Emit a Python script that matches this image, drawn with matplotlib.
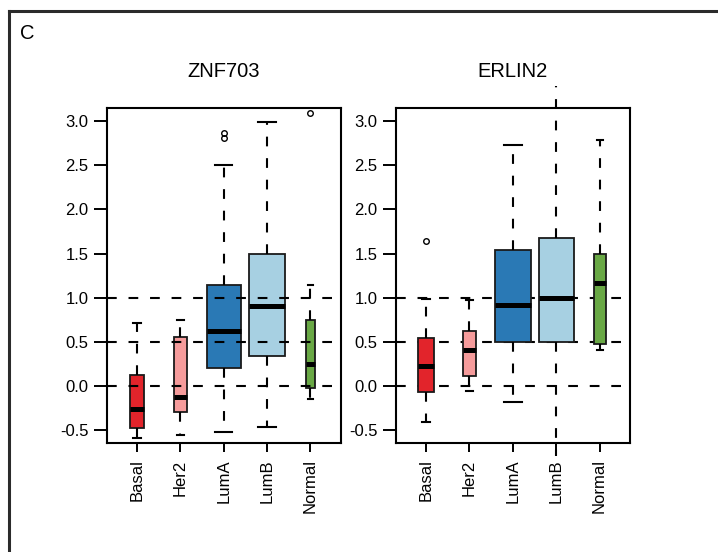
import matplotlib
matplotlib.use("Agg")
import matplotlib.pyplot as plt
from matplotlib.lines import Line2D
from matplotlib.transforms import Bbox, TransformedBbox

plt.rcParams['font.family'] = ['Liberation Sans', 'DejaVu Sans']
plt.rcParams['lines.scale_dashes'] = False

groups = ["Basal", "Her2", "LumA", "LumB", "Normal"]
colors = ["#E2242B", "#F59B9B", "#2A79B5", "#A7D0E2", "#69A845"]
yticks = [-0.5, 0.0, 0.5, 1.0, 1.5, 2.0, 2.5, 3.0]
ytick_labels = ["-0.5", "0.0", "0.5", "1.0", "1.5", "2.0", "2.5", "3.0"]
ref_lines = [0.0, 0.5, 1.0]

# ZNF703
znf_q1 = [-0.47, -0.29, 0.21, 0.34, -0.02]
znf_med = [-0.26, -0.12, 0.63, 0.905, 0.25]
znf_q3 = [0.13, 0.56, 1.14, 1.50, 0.75]
znf_lo = [-0.59, -0.55, -0.52, -0.46, -0.14]
znf_hi = [0.71, 0.75, 2.50, 2.985, 1.14]
znf_out = [[], [], [2.86, 2.81], [], [3.087]]
znf_width = [0.34, 0.30, 0.79, 0.815, 0.22]

# ERLIN2
erl_q1 = [-0.07, 0.12, 0.505, 0.50, 0.48]
erl_med = [0.23, 0.41, 0.92, 1.0, 1.17]
erl_q3 = [0.55, 0.63, 1.54, 1.68, 1.50]
erl_lo = [-0.40, -0.05, -0.18, -2.0, 0.41]
erl_hi = [0.99, 0.97, 2.73, 4.0, 2.79]
erl_out = [[1.64], [], [], [], []]
erl_width = [0.35, 0.30, 0.82, 0.815, 0.28]

dash = (0, (7, 8.5))


def panel(fig, ax, title, q1, med, q3, lo, hi, out, widths, lines_on_top, open_box=None):
    stats = []
    for i in range(len(groups)):
        stats.append(dict(q1=q1[i], med=med[i], q3=q3[i],
                          whislo=lo[i], whishi=hi[i], fliers=out[i]))
    pos = list(range(1, len(groups) + 1))
    bp = ax.bxp(stats, positions=pos, widths=widths, patch_artist=True,
                boxprops=dict(edgecolor='#1a1a1a', linewidth=1.3),
                whiskerprops=dict(color='black', linewidth=1.5, linestyle=dash),
                capprops=dict(color='black', linewidth=1.5),
                medianprops=dict(color='black', linewidth=3.6, solid_capstyle='butt'),
                flierprops=dict(marker='o', markersize=4, markerfacecolor='none',
                                markeredgecolor='black', markeredgewidth=1.0))
    for box, c in zip(bp['boxes'], colors):
        box.set_facecolor(c)

    # whisker running past the plot region, cut at the figure region
    if open_box is not None:
        region = TransformedBbox(Bbox([[0, 1 - 456 / 552], [1, 1 - 86 / 552]]),
                                 fig.transFigure)
        for w in bp['whiskers'][2 * open_box:2 * open_box + 2]:
            w.set_clip_path(None)
            w.set_clip_box(region)
        for c in bp['caps'][2 * open_box:2 * open_box + 2]:
            c.set_visible(False)

    for y in ref_lines:
        ax.axhline(y, color='black', linewidth=1.5, linestyle=dash,
                   zorder=3 if lines_on_top else 1)

    ax.set_xlim(0.3, 5.7)
    ax.set_ylim(-0.64, 3.145)
    ax.set_xticks(pos)
    ax.set_xticklabels(groups, rotation=90)
    ax.set_yticks(yticks)
    ax.set_yticklabels(ytick_labels)
    ax.tick_params(axis='y', length=9.5, width=1.4, pad=3.5, labelsize=12)
    ax.tick_params(axis='x', length=6.5, width=1.4, pad=5.5, labelsize=12)
    for s in ax.spines.values():
        s.set_linewidth(1.5)
    ax.set_title(title, fontsize=14.5, pad=22.8)


fig = plt.figure(figsize=(7.18, 5.52), dpi=100)
ax1 = fig.add_axes([0.1486, 0.198, 0.3259, 0.6058])
ax2 = fig.add_axes([0.5511, 0.198, 0.3263, 0.6058])

panel(fig, ax1, "ZNF703", znf_q1, znf_med, znf_q3, znf_lo, znf_hi, znf_out, znf_width, True)
panel(fig, ax2, "ERLIN2", erl_q1, erl_med, erl_q3, erl_lo, erl_hi, erl_out, erl_width, False, open_box=3)

# outer frame (cut off at the right and bottom)
fx = 9 / 718
fy = 1 - 11 / 552
fig.add_artist(Line2D([fx, fx], [0, fy], color='#2b2b2b', linewidth=2.2))
fig.add_artist(Line2D([fx, 1], [fy, fy], color='#2b2b2b', linewidth=2.2))
fig.text(20 / 718, 1 - 39.3 / 552, "C", fontsize=14.5, ha='left', va='baseline')

fig.savefig("out.png", dpi=100)
